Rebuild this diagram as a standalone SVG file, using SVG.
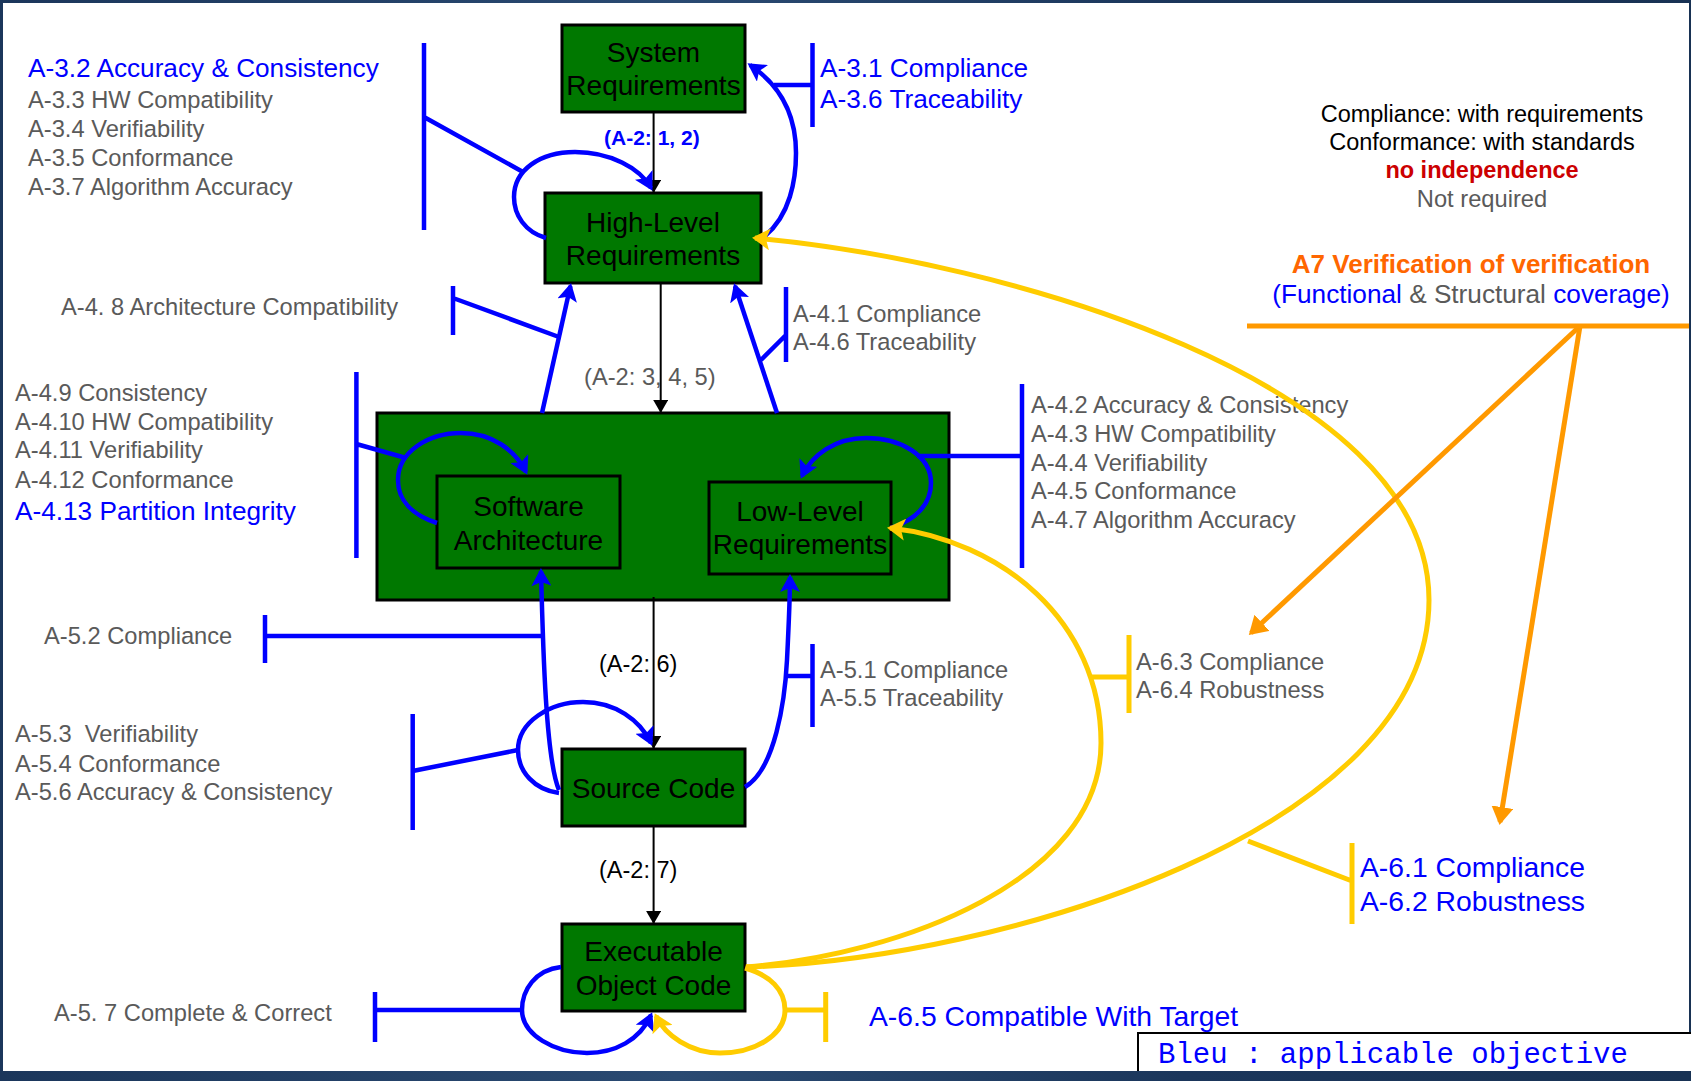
<svg xmlns="http://www.w3.org/2000/svg" width="1691" height="1081" viewBox="0 0 1691 1081">
  <style>
    text { font-family: "Liberation Sans", Arial, sans-serif; }
    text.mono { font-family: "Liberation Mono", "Courier New", monospace; }
    .g { fill: #5a5a5a; font-size: 23.7px; }
    .b { fill: #0000ff; font-size: 26.2px; }
    .bl { fill: #0000ff; font-size: 28.3px; }
    .k { fill: #000; font-size: 23.5px; }
    .node rect { fill: #007800; stroke: #000; stroke-width: 3; }
    .node text { fill: #000; font-size: 28px; text-anchor: middle; }
    .blue { stroke: #0000ff; stroke-width: 4.5; fill: none; }
    .yel { stroke: #ffcc00; stroke-width: 5; fill: none; }
    .org { stroke: #ff9900; stroke-width: 5; fill: none; }
    .blk { stroke: #000; stroke-width: 2; fill: none; }
    .mid { text-anchor: middle; }
  </style>
  <defs>
    <marker id="ahBlue" markerUnits="userSpaceOnUse" viewBox="0 0 18 20" refX="15" refY="10" markerWidth="18" markerHeight="20" orient="auto">
      <path d="M0,0 L18,10 L0,20 L4,10 z" fill="#0000ff"/>
    </marker>
    <marker id="ahYellow" markerUnits="userSpaceOnUse" viewBox="0 0 18 22" refX="15" refY="11" markerWidth="18" markerHeight="22" orient="auto">
      <path d="M0,0 L18,11 L0,22 L4,11 z" fill="#ffcc00"/>
    </marker>
    <marker id="ahOrange" markerUnits="userSpaceOnUse" viewBox="0 0 18 22" refX="15" refY="11" markerWidth="18" markerHeight="22" orient="auto">
      <path d="M0,0 L18,11 L0,22 z" fill="#ff9900"/>
    </marker>
    <marker id="ahBlack" markerUnits="userSpaceOnUse" viewBox="0 0 13 15" refX="12" refY="7.5" markerWidth="13" markerHeight="15" orient="auto">
      <path d="M0,0 L13,7.5 L0,15 z" fill="#000"/>
    </marker>
    <linearGradient id="band" x1="0" y1="0" x2="1" y2="0">
      <stop offset="0" stop-color="#1b365b"/>
      <stop offset="0.4" stop-color="#2a4a72"/>
      <stop offset="0.7" stop-color="#1b365b"/>
      <stop offset="1" stop-color="#183254"/>
    </linearGradient>
  </defs>

  <!-- slide frame -->
  <rect x="0" y="0" width="1691" height="1081" fill="url(#band)"/>
  <rect x="3" y="3" width="1686" height="1068" fill="#ffffff"/>

  <!-- process nodes -->
  <g id="system-requirements" class="node">
    <rect x="562" y="25" width="183" height="87"/>
    <text x="653.5" y="62">System</text>
    <text x="653.5" y="95">Requirements</text>
  </g>
  <g id="high-level-requirements" class="node">
    <rect x="545" y="193" width="216" height="90"/>
    <text x="653" y="232">High-Level</text>
    <text x="653" y="265">Requirements</text>
  </g>
  <g id="software-design" class="node">
    <rect x="377" y="413" width="572" height="187"/>
  </g>
  <g id="software-architecture" class="node">
    <rect x="437" y="476" width="183" height="92"/>
    <text x="528.5" y="516">Software</text>
    <text x="528.5" y="550">Architecture</text>
  </g>
  <g id="low-level-requirements" class="node">
    <rect x="709" y="482" width="182" height="92"/>
    <text x="800" y="521">Low-Level</text>
    <text x="800" y="554">Requirements</text>
  </g>
  <g id="source-code" class="node">
    <rect x="562" y="749" width="183" height="77"/>
    <text x="653.5" y="798">Source Code</text>
  </g>
  <g id="executable-object-code" class="node">
    <rect x="562" y="924" width="183" height="87"/>
    <text x="653.5" y="961">Executable</text>
    <text x="653.5" y="995">Object Code</text>
  </g>

  <!-- objective labels -->
  <g id="labels">
    <text class="b" x="28" y="77">A-3.2 Accuracy &amp; Consistency</text>
    <text class="g" x="28" y="108">A-3.3 HW Compatibility</text>
    <text class="g" x="28" y="137">A-3.4 Verifiability</text>
    <text class="g" x="28" y="166">A-3.5 Conformance</text>
    <text class="g" x="28" y="195">A-3.7 Algorithm Accuracy</text>

    <text class="b" x="820" y="77">A-3.1 Compliance</text>
    <text class="b" x="820" y="108">A-3.6 Traceability</text>

    <text x="604" y="145" fill="#0000ff" font-size="21" font-weight="bold">(A-2: 1, 2)</text>

    <text class="g" x="61" y="315">A-4. 8 Architecture Compatibility</text>
    <text class="g" x="793" y="322">A-4.1 Compliance</text>
    <text class="g" x="793" y="350">A-4.6 Traceability</text>
    <text class="g" x="584" y="385">(A-2: 3, 4, 5)</text>

    <text class="g" x="15" y="401">A-4.9 Consistency</text>
    <text class="g" x="15" y="430">A-4.10 HW Compatibility</text>
    <text class="g" x="15" y="458">A-4.11 Verifiability</text>
    <text class="g" x="15" y="488">A-4.12 Conformance</text>
    <text class="b" x="15" y="520">A-4.13 Partition Integrity</text>

    <text class="g" x="1031" y="413">A-4.2 Accuracy &amp; Consistency</text>
    <text class="g" x="1031" y="442">A-4.3 HW Compatibility</text>
    <text class="g" x="1031" y="471">A-4.4 Verifiability</text>
    <text class="g" x="1031" y="499">A-4.5 Conformance</text>
    <text class="g" x="1031" y="528">A-4.7 Algorithm Accuracy</text>

    <text class="g" x="44" y="644">A-5.2 Compliance</text>
    <text class="k" x="599" y="672">(A-2: 6)</text>
    <text class="g" x="820" y="678">A-5.1 Compliance</text>
    <text class="g" x="820" y="706">A-5.5 Traceability</text>
    <text class="g" x="1136" y="670">A-6.3 Compliance</text>
    <text class="g" x="1136" y="698">A-6.4 Robustness</text>

    <text class="g" x="15" y="742" xml:space="preserve">A-5.3  Verifiability</text>
    <text class="g" x="15" y="772">A-5.4 Conformance</text>
    <text class="g" x="15" y="800">A-5.6 Accuracy &amp; Consistency</text>

    <text class="k" x="599" y="878">(A-2: 7)</text>
    <text class="bl" x="1360" y="877">A-6.1 Compliance</text>
    <text class="bl" x="1360" y="911">A-6.2 Robustness</text>

    <text class="g" x="54" y="1021">A-5. 7 Complete &amp; Correct</text>
    <text class="bl" x="869" y="1026">A-6.5 Compatible With Target</text>
  </g>

  <!-- legend -->
  <g id="legend">
    <text class="k mid" x="1482" y="122">Compliance: with requirements</text>
    <text class="k mid" x="1482" y="150">Conformance: with standards</text>
    <text class="mid" x="1482" y="178" fill="#cc0000" font-size="23.5" font-weight="bold">no independence</text>
    <text class="g mid" x="1482" y="207">Not required</text>
    <text class="mid" x="1471" y="273" fill="#ff6600" font-size="26" font-weight="bold">A7 Verification of verification</text>
    <text class="mid" x="1471" y="303" font-size="26.2"><tspan fill="#0000ff">(Functional</tspan><tspan fill="#5a5a5a"> &amp; Structural </tspan><tspan fill="#0000ff">coverage)</tspan></text>
  </g>

  <!-- connectors -->
  <g id="connectors">
    <!-- development flow -->
    <path class="blk" d="M653.6,112 L653.6,192" marker-end="url(#ahBlack)"/>
    <path class="blk" d="M660.7,283 L660.7,412" marker-end="url(#ahBlack)"/>
    <path class="blk" d="M653.6,597 L653.6,748" marker-end="url(#ahBlack)"/>
    <path class="blk" d="M653.6,826 L653.6,923" marker-end="url(#ahBlack)"/>

    <!-- blue verification arrows -->
    <path class="blue" d="M546,238 C525,232 514,215 514,197 C514,170 540,152 575,152 C610,152 640,168 651,188" marker-end="url(#ahBlue)"/>
    <path class="blue" d="M765,236 C790,215 796,180 796,153 C796,115 780,85 750,65" marker-end="url(#ahBlue)"/>
    <path class="blue" d="M542,413 L570.4,286" marker-end="url(#ahBlue)"/>
    <path class="blue" d="M777,413 L735,286" marker-end="url(#ahBlue)"/>
    <path class="blue" d="M437,523 C412,515 398,500 398,480 C398,452 428,433 461,433 C492,433 515,450 526,472" marker-end="url(#ahBlue)"/>
    <path class="blue" d="M891,528 C915,520 931,505 931,483 C931,455 900,438 866,438 C835,438 812,455 802,476" marker-end="url(#ahBlue)"/>
    <path class="blue" d="M559,793 C535,790 518,772 518,750 C518,722 550,702 583,702 C615,702 640,720 651,743" marker-end="url(#ahBlue)"/>
    <path class="blue" d="M559,790 C546,760 543,650 541,571" marker-end="url(#ahBlue)"/>
    <path class="blue" d="M745,787 C775,770 785,700 787,660 C789,620 790,600 790,577" marker-end="url(#ahBlue)"/>
    <path class="blue" d="M561,967 C535,970 522,990 522,1010 C522,1035 555,1053 587,1053 C615,1053 640,1040 651,1015" marker-end="url(#ahBlue)"/>

    <!-- blue objective brackets -->
    <path class="blue" d="M424,43 V230 M424,117 L523,172"/>
    <path class="blue" d="M812.5,43 V127 M774,85 H812.5"/>
    <path class="blue" d="M453,286 V335 M453,298 L559,337"/>
    <path class="blue" d="M786,287 V362 M786,335 L761,360"/>
    <path class="blue" d="M356.4,372 V558 M356.4,444 L406,458"/>
    <path class="blue" d="M1022,384 V568 M917,456 H1022"/>
    <path class="blue" d="M265,615 V663 M265,636 H542"/>
    <path class="blue" d="M812.5,644 V727 M786,676 H812.5"/>
    <path class="blue" d="M412.7,714 V830 M412.7,771 L518,750"/>
    <path class="blue" d="M375,992 V1042 M375,1010 H522"/>

    <!-- yellow verification arrows -->
    <path class="yel" d="M746,967 C900,955 1101,880 1101,743 C1101,620 1000,540 890,528" marker-end="url(#ahYellow)"/>
    <path class="yel" d="M746,967 C1000,960 1429,830 1429,600 C1429,380 1000,260 755,238" marker-end="url(#ahYellow)"/>
    <path class="yel" d="M745,968 C770,975 785,990 785,1010 C785,1035 755,1053 720,1053 C690,1053 665,1035 656,1016" marker-end="url(#ahYellow)"/>

    <!-- yellow objective brackets -->
    <path class="yel" d="M1129,635 V713 M1090,677 H1129"/>
    <path class="yel" d="M1352,843 V924 M1248,841 L1352,881"/>
    <path class="yel" d="M825.7,992 V1042 M785,1010 H825.7"/>

    <!-- verification of verification -->
    <path class="org" d="M1247,326 H1689"/>
    <path class="org" d="M1580,326 L1251,633" marker-end="url(#ahOrange)"/>
    <path class="org" d="M1580,326 L1500,822" marker-end="url(#ahOrange)"/>
  </g>

  <!-- colour key -->
  <g id="key">
    <rect x="1138" y="1033" width="560" height="60" fill="#ffffff" stroke="#000" stroke-width="2"/>
    <text class="mono" x="1158" y="1063" fill="#0000ff" font-size="29">Bleu : applicable objective</text>
  </g>

  <!-- bottom band -->
  <rect x="0" y="1071" width="1691" height="10" fill="url(#band)"/>
</svg>
